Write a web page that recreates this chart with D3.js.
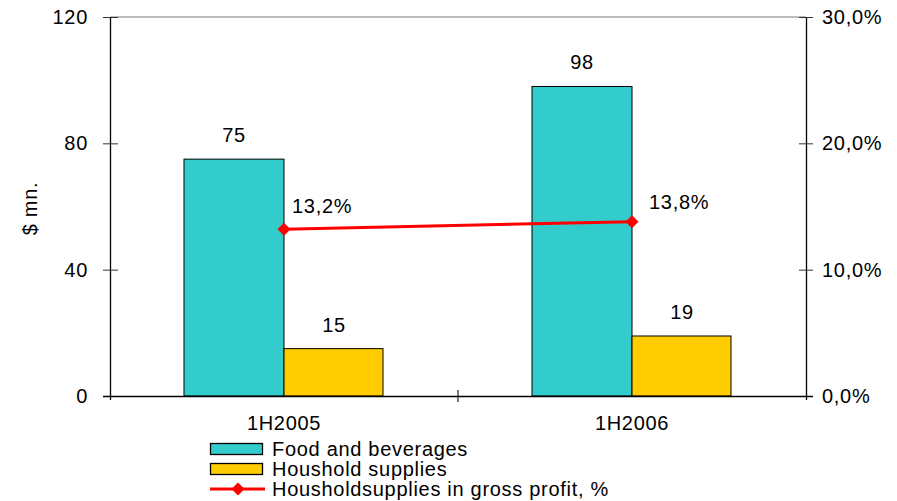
<!DOCTYPE html>
<html>
<head>
<meta charset="utf-8">
<script src="https://cdn.jsdelivr.net/npm/d3@7"></script>
<style>
  html, body { margin: 0; padding: 0; background: #fff; }
  svg text { font-family: "Liberation Sans", Arial, sans-serif; fill: #000; letter-spacing: 0.7px; }
</style>
</head>
<body>
<svg id="chart" width="897" height="501"></svg>
<script>
// Half-year sales by segment ($ mn.) and household supplies share of gross profit (%)
const periods = ["1H2005", "1H2006"];
const foodBeverages = [75, 98];
const householdSupplies = [15, 19];
const householdShare = [13.2, 13.8];
const leftTicks = [0, 40, 80, 120];
const rightTicks = [0, 10, 20, 30];
const legendNames = ["Food and beverages", "Houshold supplies", "Housholdsupplies in gross profit, %"];

const colors = { food: "#33CCCC", house: "#FFCC00", line: "#FF0000" };

const svg = d3.select("#chart");
const m = { left: 110, right: 806, top: 17, bottom: 396 };
const fontSize = "20px";

const x = d3.scaleBand().domain(periods).range([m.left, m.right]).paddingInner(0).paddingOuter(0);
const yL = d3.scaleLinear().domain([0, 120]).range([m.bottom, m.top]);
const yR = d3.scaleLinear().domain([0, 30]).range([m.bottom, m.top]);
const barW = 100;

// top frame line
svg.append("line")
  .attr("x1", m.left).attr("x2", m.right)
  .attr("y1", m.top).attr("y2", m.top)
  .attr("stroke", "#a6a6a6").attr("stroke-width", 1.5);

// bars with value labels
const g = svg.append("g");
periods.forEach((p, i) => {
  const cx = x(p) + x.bandwidth() / 2;
  g.append("rect")
    .attr("x", cx - barW).attr("width", barW)
    .attr("y", yL(foodBeverages[i])).attr("height", yL(0) - yL(foodBeverages[i]))
    .attr("fill", colors.food).attr("stroke", "#000").attr("stroke-width", 1);
  g.append("rect")
    .attr("x", cx).attr("width", barW - 1)
    .attr("y", yL(householdSupplies[i])).attr("height", yL(0) - yL(householdSupplies[i]))
    .attr("fill", colors.house).attr("stroke", "#000").attr("stroke-width", 1);
  g.append("text")
    .attr("x", cx - barW / 2).attr("y", yL(foodBeverages[i]) - 17)
    .attr("text-anchor", "middle").style("font-size", fontSize)
    .text(foodBeverages[i]);
  g.append("text")
    .attr("x", cx + barW / 2).attr("y", yL(householdSupplies[i]) - 17)
    .attr("text-anchor", "middle").style("font-size", fontSize)
    .text(householdSupplies[i]);
});

// axes
const axisLeft = svg.append("g").attr("transform", `translate(${m.left},0)`)
  .call(d3.axisLeft(yL).tickValues(leftTicks).tickSize(7).tickPadding(15));
const axisRight = svg.append("g").attr("transform", `translate(${m.right},0)`)
  .call(d3.axisRight(yR).tickValues(rightTicks).tickSize(7).tickPadding(9)
    .tickFormat(d => d3.format(".1f")(d).replace(".", ",") + "%"));
const axisBottom = svg.append("g").attr("transform", `translate(0,${m.bottom})`)
  .call(d3.axisBottom(x).tickSize(0).tickPadding(20));

[axisLeft, axisRight, axisBottom].forEach(a => {
  a.selectAll("text").style("font-size", fontSize).attr("fill", "#000");
  a.select(".domain").attr("stroke", "#000").attr("stroke-width", 1.3);
  a.selectAll(".tick line").attr("stroke", "#333");
});
axisLeft.select(".domain").attr("d", `M0.5,${m.top}V${m.bottom + 4}`);
axisRight.select(".domain").attr("d", `M0.5,${m.top}V${m.bottom + 4}`);
axisBottom.select(".domain").attr("d", `M${m.left - 7},0.5H${m.right + 7}`);
// ticks crossing the axis lines
axisLeft.selectAll(".tick line").attr("x1", 8);
axisRight.selectAll(".tick line").attr("x1", -7);
// category separators on the x axis
axisBottom.selectAll(".sep").data(d3.range(1, periods.length)).join("line")
  .attr("x1", d => m.left + d * x.bandwidth()).attr("x2", d => m.left + d * x.bandwidth())
  .attr("y1", -6).attr("y2", 6).attr("stroke", "#000");

// left axis title
svg.append("text")
  .attr("transform", `translate(37,${(m.top + m.bottom) / 2 + 2}) rotate(-90)`)
  .attr("text-anchor", "middle").style("font-size", fontSize)
  .text("$ mn.");

// share line with diamond markers and labels
const pts = periods.map((p, i) => [x(p) + x.bandwidth() / 2, yR(householdShare[i])]);
const labelOffsets = [[8, -16], [17, -13]];
svg.append("path")
  .attr("d", d3.line()(pts))
  .attr("fill", "none").attr("stroke", colors.line).attr("stroke-width", 3);
const diamond = d3.symbol().type(d3.symbolSquare).size(84);
pts.forEach((pt, i) => {
  svg.append("path").attr("d", diamond())
    .attr("transform", `translate(${pt[0]},${pt[1]}) rotate(45)`)
    .attr("fill", colors.line);
  svg.append("text")
    .attr("x", pt[0] + labelOffsets[i][0]).attr("y", pt[1] + labelOffsets[i][1])
    .style("font-size", fontSize)
    .text(d3.format(".1f")(householdShare[i]).replace(".", ",") + "%");
});

// legend
const lg = svg.append("g").attr("transform", "translate(210,0)");
const rows = [449, 469, 489];
lg.append("rect").attr("x", 0.5).attr("y", rows[0] - 5.5).attr("width", 52).attr("height", 11)
  .attr("fill", colors.food).attr("stroke", "#000").attr("stroke-width", 1.3);
lg.append("rect").attr("x", 0.5).attr("y", rows[1] - 5.5).attr("width", 52).attr("height", 11)
  .attr("fill", colors.house).attr("stroke", "#000").attr("stroke-width", 1.3);
lg.append("line").attr("x1", 0).attr("x2", 55).attr("y1", rows[2]).attr("y2", rows[2])
  .attr("stroke", colors.line).attr("stroke-width", 3);
lg.append("path").attr("d", diamond()).attr("transform", `translate(28,${rows[2]}) rotate(45)`).attr("fill", colors.line);
legendNames.forEach((n, i) => {
  lg.append("text").attr("x", 62).attr("y", rows[i]).attr("dy", "0.35em")
    .style("font-size", fontSize).text(n);
});
</script>
</body>
</html>
